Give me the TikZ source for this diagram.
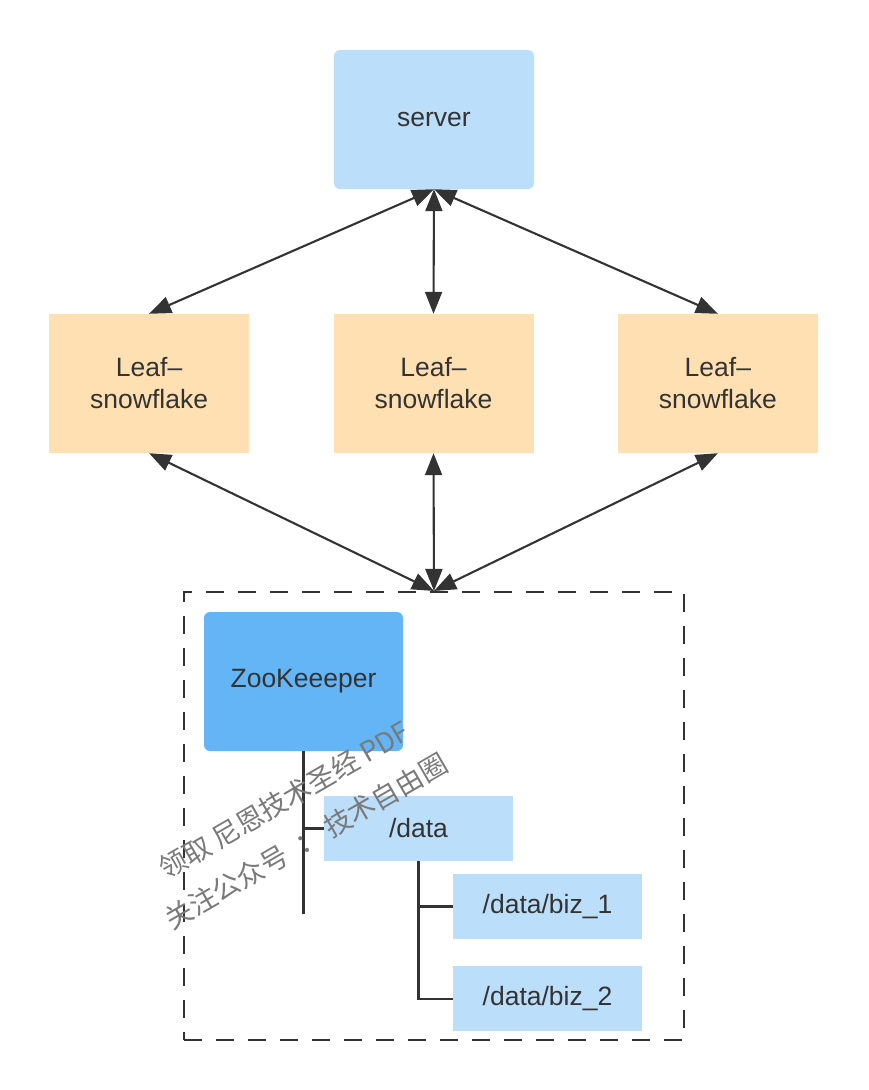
\documentclass[tikz,border=0pt]{standalone}
\usepackage{fontspec}
\setmainfont{Liberation Sans}
\newfontfamily\cjkfont{Noto Sans CJK SC}
\usetikzlibrary{arrows.meta,positioning}
\definecolor{Ink}{HTML}{333333}
\definecolor{SkyLight}{HTML}{BBDEFB}
\definecolor{SkyDeep}{HTML}{64B5F6}
\definecolor{Peach}{HTML}{FFE0B2}
\definecolor{Stamp}{HTML}{7A7A7A}
\tikzset{
  hostbox/.style={
    rounded corners=6pt, fill=SkyLight, text=Ink, inner sep=0pt,
    minimum width=200pt, minimum height=139pt, align=center,
    font=\fontsize{26.5}{32}\selectfont
  },
  leafbox/.style={
    fill=Peach, text=Ink, inner sep=0pt,
    minimum width=200pt, minimum height=139pt, align=center,
    font=\fontsize{26.5}{32}\selectfont
  },
  zkbox/.style={
    rounded corners=6pt, fill=SkyDeep, text=Ink, inner sep=0pt,
    minimum width=199pt, minimum height=139pt, align=center,
    font=\fontsize{26.5}{32}\selectfont
  },
  pathbox/.style={
    fill=SkyLight, text=Ink, inner sep=0pt,
    minimum width=189pt, minimum height=65pt, align=center,
    font=\fontsize{26.5}{32}\selectfont
  },
  group/.style={
    draw=Ink, line width=2.1pt, dash pattern=on 18pt off 14pt,
    minimum width=500pt, minimum height=448pt, inner sep=0pt
  },
  link/.style={{Triangle[length=22pt,width=17pt]}-{Triangle[length=22pt,width=17pt]},
    line width=2.1pt, draw=Ink, fill=Ink},
  branch/.style={line width=2.1pt, draw=Ink},
  watermark/.style={text=Stamp, rotate=30, inner sep=0pt,
    font=\cjkfont\fontsize{27.5}{30}\selectfont}
}
\begin{document}
\begin{tikzpicture}[x=1pt,y=-1pt]
    \useasboundingbox (0,0) rectangle (868,1090);
    \node[hostbox] (server) at (434,119.5) {server};
    \node[leafbox] (leafB) at (433.5,383.5) {Leaf–\\snowflake};
    \node[leafbox,left=84pt of leafB] (leafA) {Leaf–\\snowflake};
    \node[leafbox,right=84pt of leafB] (leafC) {Leaf–\\snowflake};
    \node[group] (cluster) at (434,816) {};
    \node[zkbox] (zk) at (303.5,681.5) {ZooKeeeper};
    \node[pathbox] (data) at (418.5,828.5) {/data};
    \node[pathbox] (biz1) at (547.5,906.5) {/data/biz\_1};
    \node[pathbox,below=27pt of biz1] (biz2) {/data/biz\_2};
    \draw[link] (server.south) -- (leafA.north);
    \draw[link] (server.south) -- (leafB.north);
    \draw[link] (server.south) -- (leafC.north);
    \draw[link] (leafA.south) -- (cluster.north);
    \draw[link] (leafB.south) -- (cluster.north);
    \draw[link] (leafC.south) -- (cluster.north);
    % znode tree
    \coordinate (zkend) at (303.5,914);
    \coordinate (dataend) at (data.south |- biz2.west);
    \draw[branch] (zk.south) -- (zkend);
    \draw[branch] (zk.south |- data.west) -- (data.west);
    \draw[branch] (data.south) -- (dataend) -- (biz2.west);
    \draw[branch] (data.south |- biz1.west) -- (biz1.west);
    \node[watermark] (wmA) at (284,800) {领取 尼恩技术圣经 PDF};
    \node[watermark] (wmB) at (306,841) {关注公众号\ \ ：\ 技术自由圈};
\end{tikzpicture}
\end{document}
